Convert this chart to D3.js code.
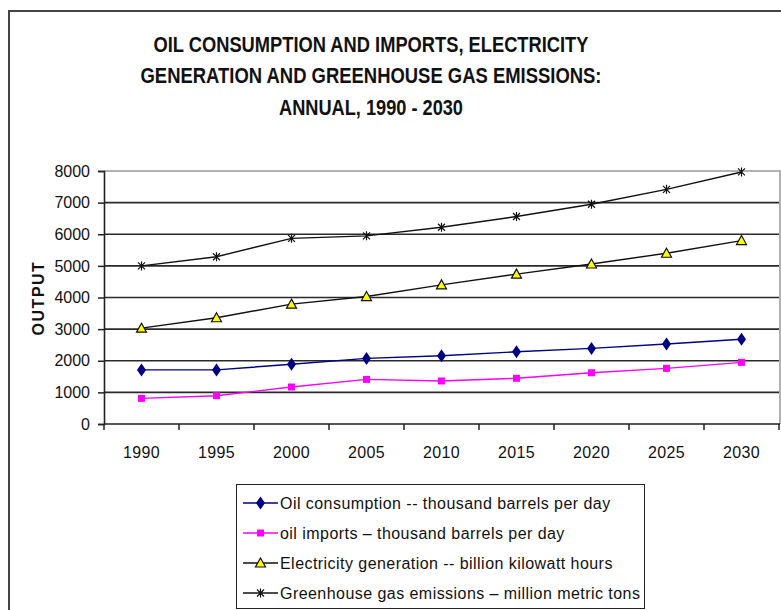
<!DOCTYPE html>
<html>
<head>
<meta charset="utf-8">
<script src="https://cdn.jsdelivr.net/npm/d3@7"></script>
<style>
  html, body { margin: 0; padding: 0; background: #fff; }
  svg { display: block; }
  text { font-family: "Liberation Sans", Arial, sans-serif; fill: #111; }
</style>
</head>
<body>
<svg id="chart" width="781" height="610"></svg>
<script>
// Categories (years) and the four series
const years = ["1990", "1995", "2000", "2005", "2010", "2015", "2020", "2025", "2030"];
const oilConsumption = [1710, 1710, 1890, 2075, 2160, 2285, 2390, 2530, 2680];
const oilImports     = [810, 895, 1170, 1410, 1360, 1445, 1620, 1760, 1950];
const electricity    = [3030, 3360, 3790, 4030, 4400, 4740, 5060, 5400, 5800];
const greenhouse     = [5000, 5290, 5870, 5950, 6220, 6560, 6950, 7420, 7970];
const yTicks = [0, 1000, 2000, 3000, 4000, 5000, 6000, 7000, 8000];
const titleLines = [
  "OIL CONSUMPTION AND IMPORTS, ELECTRICITY",
  "GENERATION AND GREENHOUSE GAS EMISSIONS:",
  "ANNUAL, 1990 - 2030"
];
const seriesNames = [
  "Oil consumption -- thousand barrels per day",
  "oil imports \u2013 thousand barrels per day",
  "Electricity generation -- billion kilowatt hours",
  "Greenhouse gas emissions \u2013 million metric tons"
];

const series = [
  { name: seriesNames[0], values: oilConsumption, line: "#000080", marker: "diamond", fill: "#000080", stroke: "none" },
  { name: seriesNames[1], values: oilImports,     line: "#ff00ff", marker: "square",  fill: "#ff00ff", stroke: "none" },
  { name: seriesNames[2], values: electricity,    line: "#111111", marker: "triangle", fill: "#ffff00", stroke: "#111" },
  { name: seriesNames[3], values: greenhouse,     line: "#111111", marker: "star",    fill: "none", stroke: "#111" }
];

const svg = d3.select("#chart");

// outer frame (top and left edges)
svg.append("path")
  .attr("d", "M9,610 L9,11 L781,11")
  .attr("fill", "none").attr("stroke", "#444").attr("stroke-width", 2);

// title, condensed bold
const titleWidths = [435, 461, 184];
svg.append("g").selectAll("text").data(titleLines).join("text")
  .attr("x", 371)
  .attr("y", (d, i) => 51.5 + i * 31.5)
  .attr("text-anchor", "middle")
  .attr("textLength", (d, i) => titleWidths[i])
  .attr("lengthAdjust", "spacingAndGlyphs")
  .style("font-family", "'Liberation Sans Narrow', 'Arial Narrow', 'Liberation Sans', sans-serif")
  .style("font-weight", "bold")
  .style("font-size", "22px")
  .text(d => d);

// plot area
const plotLeft = 104, plotRight = 779, plotTop = 171, plotBottom = 424;
const x = d3.scaleBand().domain(years).range([plotLeft, plotRight]).padding(0);
const y = d3.scaleLinear().domain([0, 8000]).range([plotBottom, plotTop]);
const cx = d => x(d) + x.bandwidth() / 2;

// plot border (top and right)
svg.append("path")
  .attr("d", `M${plotLeft},${plotTop} L${plotRight + 1},${plotTop} L${plotRight + 1},${plotBottom}`)
  .attr("fill", "none").attr("stroke", "#999").attr("stroke-width", 1.5);

// gridlines
svg.append("g").selectAll("line").data(yTicks.filter(t => t > 0 && t < 8000)).join("line")
  .attr("x1", plotLeft).attr("x2", plotRight)
  .attr("y1", d => y(d)).attr("y2", d => y(d))
  .attr("stroke", "#2a2a2a").attr("stroke-width", 1.6);

// y axis
const yAxis = svg.append("g")
  .attr("transform", `translate(${plotLeft},0)`)
  .call(d3.axisLeft(y).tickValues(yTicks).tickSize(6).tickPadding(8).tickFormat(d3.format("d")));
yAxis.select(".domain").attr("stroke", "#222").attr("stroke-width", 1.6);
yAxis.selectAll(".tick line").attr("stroke", "#222").attr("stroke-width", 1.5);
yAxis.selectAll(".tick text")
  .style("font-family", "'Liberation Sans', Arial, sans-serif")
  .style("font-size", "16px").attr("fill", "#111");

// x axis: ticks sit on category boundaries, labels at band centres
const xAxisG = svg.append("g").attr("transform", `translate(0,${plotBottom})`);
xAxisG.append("line").attr("x1", plotLeft).attr("x2", plotRight + 1).attr("y1", 0).attr("y2", 0)
  .attr("stroke", "#222").attr("stroke-width", 1.6);
const boundaries = years.map(d => x(d)).concat([plotRight]);
xAxisG.selectAll("line.tk").data(boundaries).join("line").attr("class", "tk")
  .attr("x1", d => d).attr("x2", d => d).attr("y1", 0).attr("y2", 6)
  .attr("stroke", "#222").attr("stroke-width", 1.5);
xAxisG.selectAll("text").data(years).join("text")
  .attr("x", d => cx(d)).attr("y", 34)
  .attr("text-anchor", "middle")
  .style("font-size", "16px")
  .style("letter-spacing", "0.3px")
  .text(d => d);

// y axis title
svg.append("text")
  .attr("transform", "translate(44,298) rotate(-90)")
  .attr("text-anchor", "middle")
  .style("font-weight", "bold").style("font-size", "16px").style("letter-spacing", "1.5px")
  .text("OUTPUT");

// marker drawing
function drawMarker(g, type, px, py, s) {
  if (type === "diamond") {
    g.append("path").attr("d", `M${px},${py - 6.5} L${px + 4.5},${py} L${px},${py + 6.5} L${px - 4.5},${py} Z`)
      .attr("fill", s.fill);
  } else if (type === "square") {
    g.append("rect").attr("x", px - 3.5).attr("y", py - 3.5).attr("width", 7).attr("height", 7)
      .attr("fill", s.fill);
  } else if (type === "triangle") {
    g.append("path").attr("d", `M${px},${py - 5} L${px + 5},${py + 4} L${px - 5},${py + 4} Z`)
      .attr("fill", s.fill).attr("stroke", s.stroke).attr("stroke-width", 1.2);
  } else if (type === "star") {
    g.append("path").attr("d",
      `M${px - 3.5},${py - 3.5} L${px + 3.5},${py + 3.5} M${px - 3.5},${py + 3.5} L${px + 3.5},${py - 3.5} M${px},${py - 4.5} L${px},${py + 4.5}`)
      .attr("stroke", s.stroke).attr("stroke-width", 1.2).attr("fill", "none");
  }
}

// series lines and markers
const line = d3.line().x(d => cx(d.year)).y(d => y(d.value));
series.forEach(s => {
  const pts = years.map((yr, i) => ({ year: yr, value: s.values[i] }));
  const g = svg.append("g");
  g.append("path").datum(pts).attr("d", line)
    .attr("fill", "none").attr("stroke", s.line).attr("stroke-width", 1.4);
  pts.forEach(p => drawMarker(g, s.marker, cx(p.year), y(p.value), s));
});

// legend
const lg = svg.append("g");
lg.append("rect").attr("x", 236.5).attr("y", 484.5).attr("width", 408).attr("height", 124)
  .attr("fill", "#fff").attr("stroke", "#222").attr("stroke-width", 1);
series.forEach((s, i) => {
  const ly = 503 + i * 30;
  lg.append("line").attr("x1", 243).attr("x2", 278).attr("y1", ly).attr("y2", ly)
    .attr("stroke", s.line).attr("stroke-width", 1.4);
  drawMarker(lg, s.marker, 260.5, ly, s);
  lg.append("text").attr("x", 280).attr("y", ly + 5.5)
    .style("font-size", "16px")
    .style("letter-spacing", "0.45px")
    .text(s.name);
});
</script>
</body>
</html>
